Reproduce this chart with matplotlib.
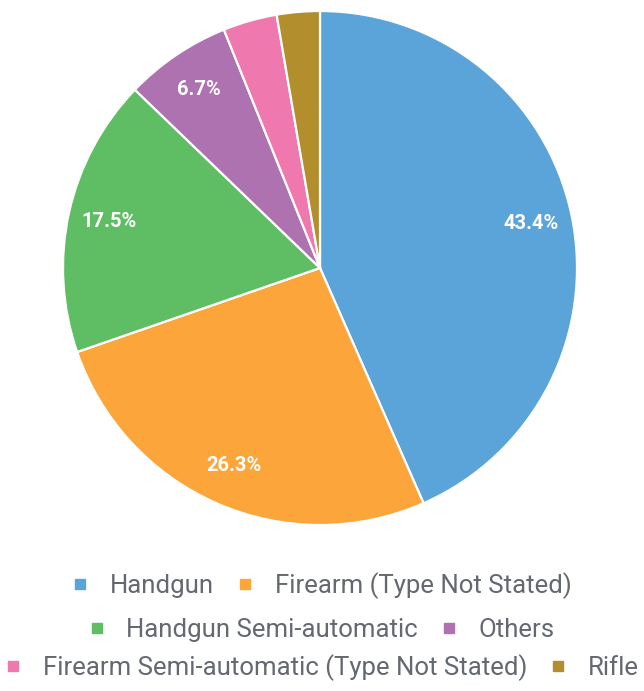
import matplotlib.pyplot as plt
from matplotlib.lines import Line2D

plt.rcParams['font.family'] = ['Roboto', 'DejaVu Sans']

labels = ["Handgun", "Firearm (Type Not Stated)", "Handgun Semi-automatic", "Others",
          "Firearm Semi-automatic (Type Not Stated)", "Rifle"]
values = [43.4, 26.3, 17.5, 6.7, 3.4, 2.7]
colors = ["#5aa4da", "#fba53b", "#5fbe64", "#ae72b0", "#ef78ae", "#b38e2d"]


def pct_label(p):
  return "%.1f%%" % p if p > 5 else ""


fig = plt.figure(figsize=(6.44, 6.91), dpi=100)
W, H = 644, 691
cx, cy, r = 320, 268, 257
ax = fig.add_axes([(cx - r) / W, (H - cy - r) / H, 2 * r / W, 2 * r / H])

wedges, texts, autotexts = ax.pie(values, colors=colors, startangle=90, counterclock=False,
                                  autopct=pct_label, pctdistance=0.84, radius=1.0,
                                  wedgeprops=dict(edgecolor="white", linewidth=1.6))
for t in autotexts:
  t.set_color("white")
  t.set_fontsize(14.5)
  t.set_fontweight("bold")
ax.set_xlim(-1, 1)
ax.set_ylim(-1, 1)
ax.set_aspect("equal")
ax.axis("off")

handles = [Line2D([], [], marker="s", linestyle="none", markersize=7.5,
                  markerfacecolor=c, markeredgecolor=c) for c in colors]

rows = [(0, 2, 586), (2, 4, 630), (4, 6, 668)]
for a, b, y in rows:
  fig.legend(handles[a:b], labels[a:b], loc="center", bbox_to_anchor=(0.5, 1 - y / H),
             ncol=2, frameon=False, fontsize=18.5, labelcolor="#646970",
             handlelength=0.6, handletextpad=0.85, columnspacing=0.9, borderpad=0,
             borderaxespad=0)

fig.savefig("out.png", dpi=100)
